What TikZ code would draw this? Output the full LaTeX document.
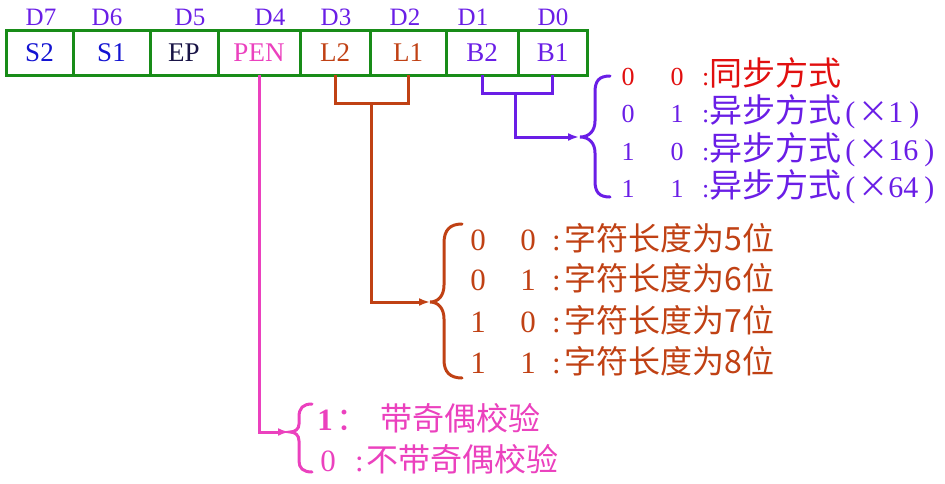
\documentclass[tikz,border=0pt]{standalone}
\usepackage{fontspec}
\setmainfont{Liberation Serif}
\newfontfamily\cjk{Noto Sans CJK SC}
\usetikzlibrary{arrows.meta}
\definecolor{grn}{RGB}{24,140,24}
\definecolor{pur}{RGB}{106,30,230}
\definecolor{blu}{RGB}{20,20,210}
\definecolor{navy}{RGB}{25,20,70}
\definecolor{pnk}{RGB}{235,65,190}
\definecolor{brn}{RGB}{192,65,20}
\definecolor{rd}{RGB}{225,15,15}
\newcommand{\cja}{\cjk\fontsize{33}{36}\selectfont}
\newcommand{\cjb}{\cjk\fontsize{32}{36}\selectfont}
\newcommand{\tms}{{\cjk\fontsize{30}{34}\selectfont ×}}
\newcommand{\mult}[1]{\kern4pt{\fontsize{30}{34}\selectfont(\kern3pt\tms #1\kern6pt)}}
\begin{document}
\begin{tikzpicture}[x=1pt,y=-1pt,
  cell/.style={draw=grn, line width=3pt, minimum height=45pt, inner sep=0pt, outer sep=0pt,
    font=\fontsize{27}{30}\selectfont},
  dlab/.style={anchor=base, text=pur, inner sep=0pt, font=\fontsize{25}{30}\selectfont},
  conn/.style={line width=3pt},
  arr/.style={line width=3pt, -{Latex[length=11pt,width=8pt]}},
  brc/.style={line width=3pt, line cap=round},
  dig/.style={anchor=base, inner sep=0pt},
  txt/.style={anchor=base west, inner sep=0pt},
  fa/.style={font=\fontsize{26}{30}\selectfont},
  fb/.style={font=\fontsize{31}{34}\selectfont},
]
\useasboundingbox (0,0) rectangle (945,483);
% cells
\node[cell, minimum width=67pt, text=blu] (s2) at (39.5,52.5) {S2};
\node[cell, minimum width=77pt, text=blu] (s1) at (111.5,52.5) {S1};
\node[cell, minimum width=68pt, text=navy] (ep) at (184,52.5) {EP};
\node[cell, minimum width=82pt, text=pnk] (pen) at (259,52.5) {PEN};
\node[cell, minimum width=70pt, text=brn] (l2) at (335,52.5) {L2};
\node[cell, minimum width=76pt, text=brn] (l1) at (408,52.5) {L1};
\node[cell, minimum width=72pt, text=pur] (b2) at (482,52.5) {B2};
\node[cell, minimum width=69pt, text=pur] (b1) at (552.5,52.5) {B1};
% bit labels
\node[dlab] (d7) at (41,25) {D7};
\node[dlab] (d6) at (107,25) {D6};
\node[dlab] (d5) at (190,25) {D5};
\node[dlab] (d4) at (270,25) {D4};
\node[dlab] (d3) at (336,25) {D3};
\node[dlab] (d2) at (405,25) {D2};
\node[dlab] (d1) at (473,25) {D1};
\node[dlab] (d0) at (553,25) {D0};
% junctions and tips
\coordinate (bj) at (515,93);
\coordinate (t1) at (579,137);
\coordinate (lj) at (371,103);
\coordinate (t2) at (430,302);
\coordinate (t3) at (289,432);
% connectors
\draw[conn, pur] (b2.south) |- (bj) -| (b1.south);
\draw[arr, pur] (bj) |- (t1);
\draw[conn, brn] (l2.south) |- (lj) -| (l1.south);
\draw[arr, brn] (lj) |- (t2);
\draw[arr, pnk] (pen.south) |- (t3);
% braces
\draw[brc, pur] (610,76) .. controls (599,76) and (595,81) .. (595,92) -- (595,121)
  .. controls (595,131) and (589,137) .. (580,137) .. controls (589,137) and (595,143) .. (595,153)
  -- (595,181) .. controls (595,192) and (599,197) .. (610,197);
\draw[brc, brn] (462,224) .. controls (450,224) and (444,230) .. (444,243) -- (444,285)
  .. controls (444,296) and (438,302) .. (430,302) .. controls (438,302) and (444,308) .. (444,319)
  -- (444,360) .. controls (444,372) and (450,378) .. (462,378);
\draw[brc, pnk] (312,404) .. controls (303,404) and (299,408) .. (299,417) -- (299,424)
  .. controls (299,429) and (295,432) .. (290,432) .. controls (295,432) and (299,435) .. (299,441)
  -- (299,461) .. controls (299,468) and (303,472) .. (312,472);
% list 1 (baud)
\node[dig, fa, text=rd] (r1a) at (628,85) {0};
\node[dig, fa, text=rd] (r1b) at (677,85) {0};
\node[txt, fa, text=rd] (r1t) at (702,85) {:{\cja 同步方式}};
\node[dig, fa, text=pur] (r2a) at (628,122) {0};
\node[dig, fa, text=pur] (r2b) at (677,122) {1};
\node[txt, fa, text=pur] (r2t) at (702,122) {:{\cja 异步方式}\mult{1}};
\node[dig, fa, text=pur] (r3a) at (628,160) {1};
\node[dig, fa, text=pur] (r3b) at (677,160) {0};
\node[txt, fa, text=pur] (r3t) at (702,160) {:{\cja 异步方式}\mult{16}};
\node[dig, fa, text=pur] (r4a) at (628,197) {1};
\node[dig, fa, text=pur] (r4b) at (677,197) {1};
\node[txt, fa, text=pur] (r4t) at (702,197) {:{\cja 异步方式}\mult{64}};
% list 2 (length)
\node[dig, fb, text=brn] (c1a) at (478,250) {0};
\node[dig, fb, text=brn] (c1b) at (528,250) {0};
\node[txt, fb, text=brn] (c1t) at (552,250) {:\kern4pt{\cjb 字符长度为5位}};
\node[dig, fb, text=brn] (c2a) at (478,290) {0};
\node[dig, fb, text=brn] (c2b) at (528,290) {1};
\node[txt, fb, text=brn] (c2t) at (552,290) {:\kern4pt{\cjb 字符长度为6位}};
\node[dig, fb, text=brn] (c3a) at (478,332) {1};
\node[dig, fb, text=brn] (c3b) at (528,332) {0};
\node[txt, fb, text=brn] (c3t) at (552,332) {:\kern4pt{\cjb 字符长度为7位}};
\node[dig, fb, text=brn] (c4a) at (478,373) {1};
\node[dig, fb, text=brn] (c4b) at (528,373) {1};
\node[txt, fb, text=brn] (c4t) at (552,373) {:\kern4pt{\cjb 字符长度为8位}};
% list 3 (parity)
\node[dig, fb, text=pnk] (p1a) at (325,430) {\textbf{1}};
\node[txt, fb, text=pnk] (p1t) at (336,430) {{\cjb ：}\kern12pt{\cjb 带奇偶校验}};
\node[dig, fb, text=pnk] (p2a) at (328,471) {0};
\node[txt, fb, text=pnk] (p2t) at (355,471) {:\kern3pt{\cjb 不带奇偶校验}};
\end{tikzpicture}
\end{document}
